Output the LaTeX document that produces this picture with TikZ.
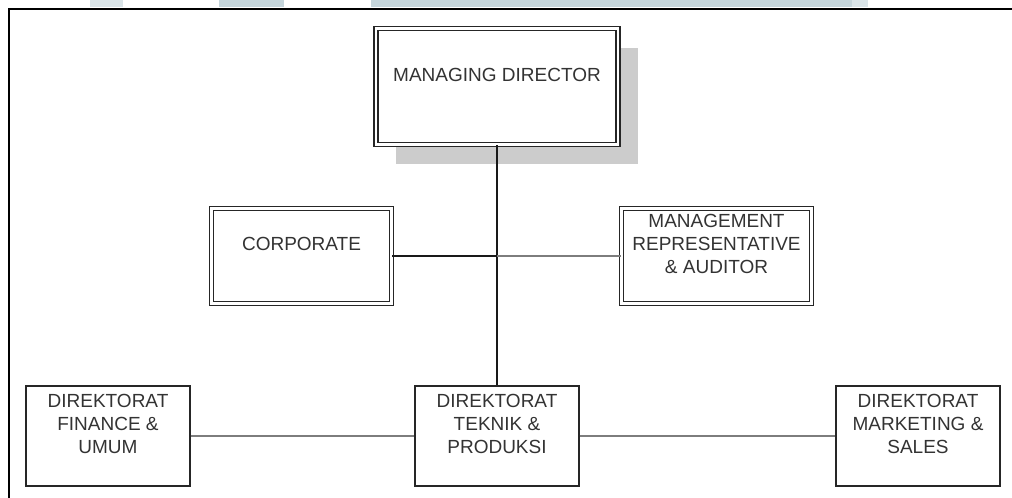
\documentclass[tikz,border=0pt]{standalone}
\usepackage{fontspec}
\setmainfont{Liberation Sans}
\usetikzlibrary{calc,shadows}
\definecolor{wm}{RGB}{197,213,219}
\definecolor{wmlight}{RGB}{218,228,232}
\definecolor{lgray}{RGB}{125,125,125}
\tikzset{
  dbox/.style={draw=black!85,line width=0.8pt,double=white,double distance=2.2pt,fill=white,minimum width=#1,minimum height=71.25pt,inner sep=0pt},
  sbox/.style={draw=black!85,line width=0.8pt,fill=white,minimum width=123pt,minimum height=75pt,inner sep=0pt},
  lbl/.style={align=center,font=\fontsize{14.25}{17}\selectfont,text=black!80,inner sep=0pt},
  conn/.style={draw=black!90,line width=0.8pt},
  gconn/.style={draw=lgray,line width=1.1pt},
}
\begin{document}
\begin{tikzpicture}[x=0.75pt,y=0.75pt]
\useasboundingbox (0,0) rectangle (1012,498);
\fill[wmlight] (90,491) rectangle (123,498);
\fill[wm] (219,491) rectangle (284,498);
\fill[wm] (371,491) rectangle (852,498);
\fill[wmlight] (852,491) rectangle (868,498);
\draw[line width=1.6pt] (9,0)--(9,489)--(1012,489);
\node[dbox=181.5pt,minimum height=87pt,drop shadow={opacity=1,fill=black!20,shadow xshift=15pt,shadow yshift=-15pt}] (md) at (497,411.5) {};
\node[dbox=135pt] (corp) at (301.5,242) {};
\node[dbox=142.5pt] (mra) at (716.5,242) {};
\foreach\n/\x in {fin/108,tek/497,mkt/918} {
\node[sbox] (\n) at (\x,62) {};}
\coordinate (j) at (md.south |- corp.east);
\draw[conn] (md.south)--(tek.north);
\draw[conn] (corp.east)--(j);
\draw[gconn] (j)--(mra.west);
\draw[gconn] (fin.east)--(tek.west);
\draw[gconn] (tek.east)--(mkt.west);
\node[lbl] (md-t) at ([yshift=9pt]md.center) {MANAGING DIRECTOR};
\node[lbl] (corp-t) at ([yshift=9pt]corp.center) {CORPORATE};
\node[lbl] (mra-t) at ([yshift=9pt]mra.center) {MANAGEMENT\\REPRESENTATIVE\\\& AUDITOR};
\node[lbl] (fin-t) at ([yshift=9pt]fin.center) {DIREKTORAT\\FINANCE \&\\UMUM};
\node[lbl] (tek-t) at ([yshift=9pt]tek.center) {DIREKTORAT\\TEKNIK \&\\PRODUKSI};
\node[lbl] (mkt-t) at ([yshift=9pt]mkt.center) {DIREKTORAT\\MARKETING \&\\SALES};
\end{tikzpicture}
\end{document}
